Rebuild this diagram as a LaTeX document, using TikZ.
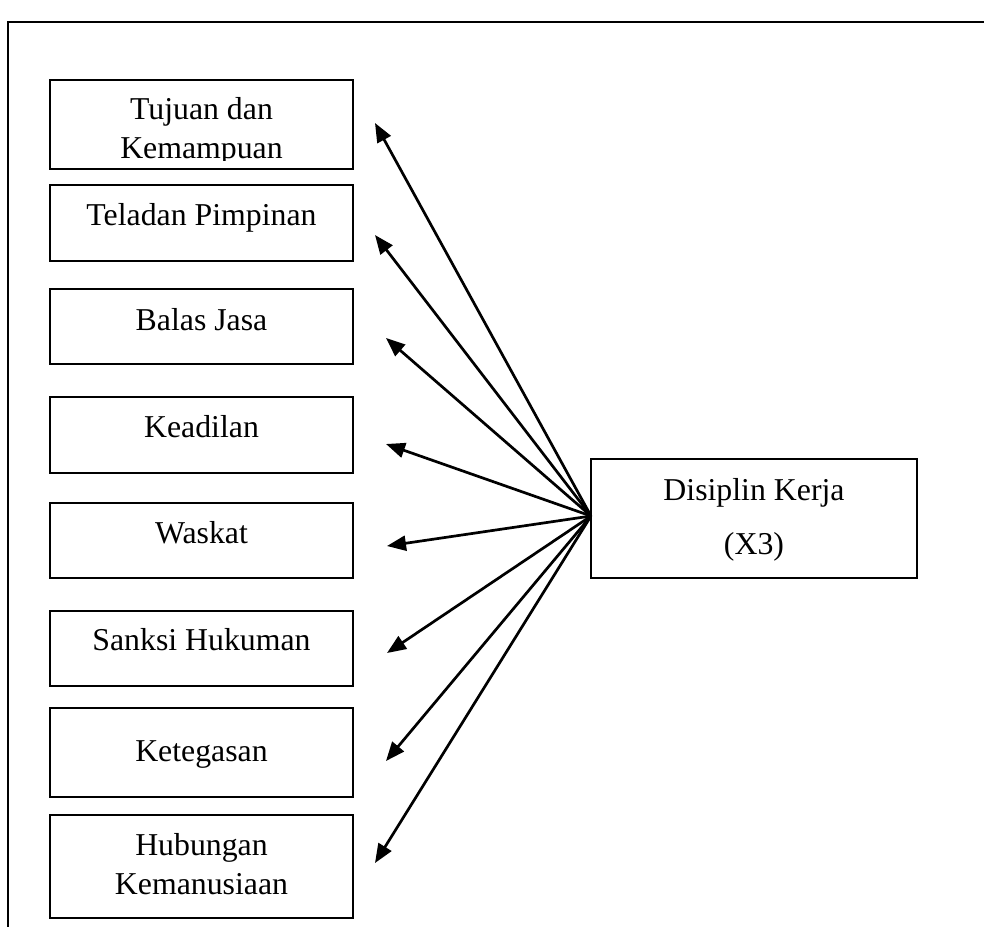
\documentclass[tikz,border=0pt]{standalone}
\usepackage{fontspec}
\setmainfont{Liberation Serif}
\usetikzlibrary{arrows.meta}
\begin{document}
\begin{tikzpicture}[x=1pt,y=-1pt,
  box/.style={draw, line width=2pt, inner sep=0pt, minimum width=303pt},
  lbl/.style={inner sep=0pt, align=center, font=\fontsize{31.8}{38.5}\selectfont},
  link/.style={line width=2.7pt, -{Triangle[length=19pt,width=15pt]}}]
\useasboundingbox (0,0) rectangle (984,927);
% outer frame (top and left edges only)
\draw[line width=2pt] (984,22) -- (8,22) -- (8,927);

% factor boxes
\node[box, minimum height=89pt] (b1) at (201.5,124.5) {};
\node[box, minimum height=76pt] (b2) at (201.5,223) {};
\node[box, minimum height=75pt] (b3) at (201.5,326.5) {};
\node[box, minimum height=76pt] (b4) at (201.5,435) {};
\node[box, minimum height=75pt] (b5) at (201.5,540.5) {};
\node[box, minimum height=75pt] (b6) at (201.5,648.5) {};
\node[box, minimum height=89pt] (b7) at (201.5,752.5) {};
\node[box, minimum height=103pt] (b8) at (201.5,866.5) {};
% target box
\node[draw, line width=2pt, inner sep=0pt, minimum width=326pt, minimum height=119pt] (dk) at (754,518.5) {};

% labels (two-line labels are anchored on their last baseline)
\begin{scope}
  \clip (50,80) rectangle (353,160);
  \node[lbl, anchor=base] (t1) at (201.5,158) {Tujuan dan\\Kemampuan};
\end{scope}
\node[lbl, anchor=base] (t2) at (201.5,225) {Teladan Pimpinan};
\node[lbl, anchor=base] (t3) at (201.5,330) {Balas Jasa};
\node[lbl, anchor=base] (t4) at (201.5,437) {Keadilan};
\node[lbl, anchor=base] (t5) at (201.5,543) {Waskat};
\node[lbl, anchor=base] (t6) at (201.5,650) {Sanksi Hukuman};
\node[lbl, anchor=base] (t7) at (201.5,761) {Ketegasan};
\node[lbl, anchor=base] (t8) at (201.5,894) {Hubungan\\Kemanusiaan};
\node[lbl, anchor=base] (td1) at (754,500) {Disiplin Kerja};
\node[lbl, anchor=base] (td2) at (754,554) {(X3)};

% arrow ends
\coordinate (c) at (591,516);
\coordinate (a1) at (375,123);
\coordinate (a2) at (375,235);
\coordinate (a3) at (386,338);
\coordinate (a4) at (386,444);
\coordinate (a5) at (387,546);
\coordinate (a6) at (387,653);
\coordinate (a7) at (386,761);
\coordinate (a8) at (375,863);
\foreach \i in {1,...,8} \draw[link] (c) -- (a\i);
\end{tikzpicture}
\end{document}
